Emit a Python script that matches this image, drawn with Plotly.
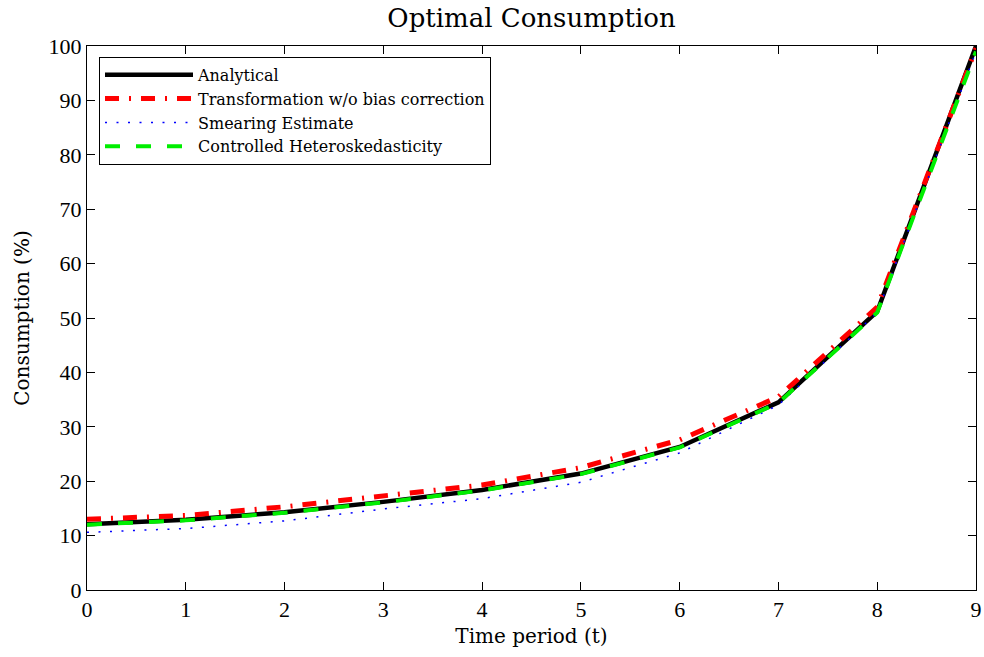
import plotly.graph_objects as go

t = [0, 1, 2, 3, 4, 5, 6, 7, 8, 9]
analytical = [12.1, 12.9, 14.3, 16.2, 18.4, 21.4, 26.3, 34.5, 51.2, 100.0]
transformation = [13.0, 13.7, 15.3, 17.3, 19.3, 22.5, 27.6, 35.5, 52.0, 99.6]
smearing = [10.6, 11.3, 12.7, 14.9, 16.8, 19.8, 25.2, 34.0, 51.0, 99.0]
controlled = [12.0, 12.8, 14.2, 16.1, 18.3, 21.3, 26.2, 34.4, 51.0, 99.0]
xticks = list(range(0, 10))
yticks = list(range(0, 101, 10))

LABEL_FONT = "DejaVu Serif"
TICK_FONT = "Liberation Serif"

fig = go.Figure()
fig.add_trace(go.Scatter(x=t, y=analytical, mode="lines", name="Analytical",
                         line=dict(color="black", width=4.5)))
fig.add_trace(go.Scatter(x=t, y=transformation, mode="lines", name="Transformation w/o bias correction",
                         line=dict(color="red", width=5, dash="14px,10px,2px,10px")))
fig.add_trace(go.Scatter(x=t, y=smearing, mode="lines", name="Smearing Estimate",
                         line=dict(color="blue", width=1.5, dash="2px,9.5px")))
fig.add_trace(go.Scatter(x=t, y=controlled, mode="lines", name="Controlled Heteroskedasticity",
                         line=dict(color="#00ee00", width=4, dash="15px,16px")))

axis_common = dict(showgrid=False, zeroline=False, showline=True, linecolor="black",
                   linewidth=1, mirror="ticks", ticks="inside", ticklen=8,
                   tickcolor="black", tickfont=dict(family=TICK_FONT, size=22, color="black"))

fig.update_layout(
    width=984, height=657,
    paper_bgcolor="white", plot_bgcolor="white",
    margin=dict(l=87, r=8, t=46, b=67, autoexpand=False),
    title=dict(text="Optimal Consumption", x=0.5, xref="paper", xanchor="center",
               y=1 - 18 / 657, yref="container", yanchor="middle",
               font=dict(family=LABEL_FONT, size=26, color="black")),
    xaxis=dict(range=[0, 9], tickvals=xticks, automargin=False,
               title=dict(text="Time period (t)", font=dict(family=LABEL_FONT, size=20, color="black"), standoff=7),
               **axis_common),
    yaxis=dict(range=[0, 100], tickvals=yticks, automargin=False,
               title=dict(text="Consumption (%)", font=dict(family=LABEL_FONT, size=20, color="black"), standoff=13),
               **axis_common),
    legend=dict(x=0.0135, y=0.98, xanchor="left", yanchor="top",
                bgcolor="white", bordercolor="black", borderwidth=1,
                font=dict(family=LABEL_FONT, size=16, color="black"),
                tracegroupgap=0, itemwidth=88),
    showlegend=True,
)

fig.write_html("out.html", config={"displayModeBar": False},
               post_script="document.body.style.margin='0';")
